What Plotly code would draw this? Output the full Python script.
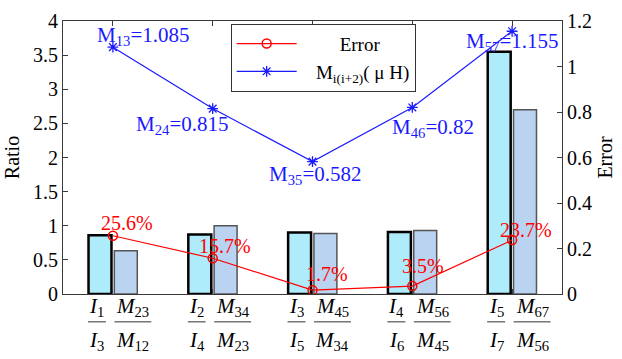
import plotly.graph_objects as go

# ---- data ----
groups = [1, 2, 3, 4, 5]
i_num = ["1", "2", "3", "4", "5"]
i_den = ["3", "4", "5", "6", "7"]
m_num = ["23", "34", "45", "56", "67"]
m_den = ["12", "23", "34", "45", "56"]
ratio_I = [0.86, 0.87, 0.90, 0.91, 3.55]
ratio_M = [0.635, 1.00, 0.885, 0.93, 2.70]
error_vals = [0.256, 0.157, 0.017, 0.035, 0.237]
m_pairs = ["13", "24", "35", "46", "57"]
m_vals = [1.085, 0.815, 0.582, 0.82, 1.155]

# ---- style ----
FONT = "Liberation Serif"
AX = "#3a3a3a"
NB = "\u00a0"
m_shift = [(30, 11), (-31, -16), (2, -13), (21, -21), (0, -11)]
e_shift = [(14, 13), (12, 12), (14, 16), (11, 20), (14, 10)]

fig = go.Figure()
fig.add_bar(x=groups, y=ratio_I, marker=dict(color="#aeecfb", line=dict(color="black", width=2.5)),
            showlegend=False, yaxis="y")
fig.add_bar(x=groups, y=ratio_M, marker=dict(color="#b9d3f1", line=dict(color="#555555", width=1.5)),
            showlegend=False, yaxis="y")
fig.add_scatter(x=groups, y=error_vals, mode="lines+markers", name=NB * 8 + "Error",
                line=dict(color="red", width=1.2),
                marker=dict(symbol="circle-open", size=9, color="red", line=dict(width=1.5)),
                yaxis="y2")
fig.add_scatter(x=groups, y=m_vals, mode="lines+markers", name=NB * 3 + "M<sub>i(i+2)</sub>( \u03bc H)",
                line=dict(color="#1a1aff", width=1.2),
                marker=dict(symbol="asterisk-open", size=9, color="#1a1aff", line=dict(width=1.3, color="#1a1aff")),
                yaxis="y2")

ann = []
for g, p, v, (dx, dy) in zip(groups, m_pairs, m_vals, m_shift):
    ann.append(dict(x=g, y=v, xref="x", yref="y2", text=f"M<sub>{p}</sub>={v:g}", showarrow=False,
                    xshift=dx, yshift=dy, font=dict(family=FONT, size=21, color="#1a1aff")))
for g, v, (dx, dy) in zip(groups, error_vals, e_shift):
    ann.append(dict(x=g, y=v, xref="x", yref="y2", text=f"{v*100:.1f}%", showarrow=False,
                    xshift=dx, yshift=dy, font=dict(family=FONT, size=20, color="red")))

# fraction tick labels
shapes = []
LINE_Y = -0.102
ffont = dict(family=FONT, size=21, color="black")
for g, a, b, c, d in zip(groups, i_num, i_den, m_num, m_den):
    for off, halfw, num, den in [(-0.16, 0.09, f"<i>I</i><sub>{a}</sub>", f"<i>I</i><sub>{b}</sub>"),
                                 (0.20, 0.185, f"<i>M</i><sub>{c}</sub>", f"<i>M</i><sub>{d}</sub>")]:
        shapes.append(dict(type="line", xref="x", yref="paper", x0=g + off - halfw, x1=g + off + halfw,
                           y0=LINE_Y, y1=LINE_Y, line=dict(color="#333", width=1)))
        ann.append(dict(x=g + off, y=LINE_Y, xref="x", yref="paper", text=num, showarrow=False,
                        yanchor="bottom", yshift=0, font=ffont))
        ann.append(dict(x=g + off, y=LINE_Y, xref="x", yref="paper", text=den, showarrow=False,
                        yanchor="top", yshift=-4, font=ffont))

fig.update_layout(
    width=622, height=359,
    margin=dict(l=63, r=56, t=10, b=65),
    plot_bgcolor="white", paper_bgcolor="white",
    barmode="group", bargap=0.483, bargroupgap=0.11,
    font=dict(family=FONT, size=20, color="black"),
    xaxis=dict(range=[0.5, 5.5], tickvals=groups, showticklabels=False, ticks="inside", ticklen=5,
               tickcolor=AX, showline=True, linecolor=AX, linewidth=1, mirror="ticks", showgrid=False,
               zeroline=False),
    yaxis=dict(range=[0, 4], dtick=0.5, ticks="inside", ticklen=5, tickcolor=AX, showline=True,
               linecolor=AX, linewidth=1, showgrid=False, zeroline=False,
               tickfont=dict(family=FONT, size=20),
               title=dict(text="Ratio", standoff=8, font=dict(family=FONT, size=20))),
    yaxis2=dict(range=[0, 1.2], dtick=0.2, overlaying="y", side="right", ticks="inside", ticklen=5,
                tickcolor=AX, showline=True, linecolor=AX, linewidth=1, showgrid=False, zeroline=False,
                tickfont=dict(family=FONT, size=20),
                title=dict(text="Error", standoff=6, font=dict(family=FONT, size=20))),
    legend=dict(x=0.336, y=0.99, xanchor="left", yanchor="top", bgcolor="white",
                bordercolor="#333", borderwidth=1, font=dict(family=FONT, size=19),
                tracegroupgap=0, itemwidth=60),
    annotations=ann, shapes=shapes,
)

fig.write_html("out.html")
